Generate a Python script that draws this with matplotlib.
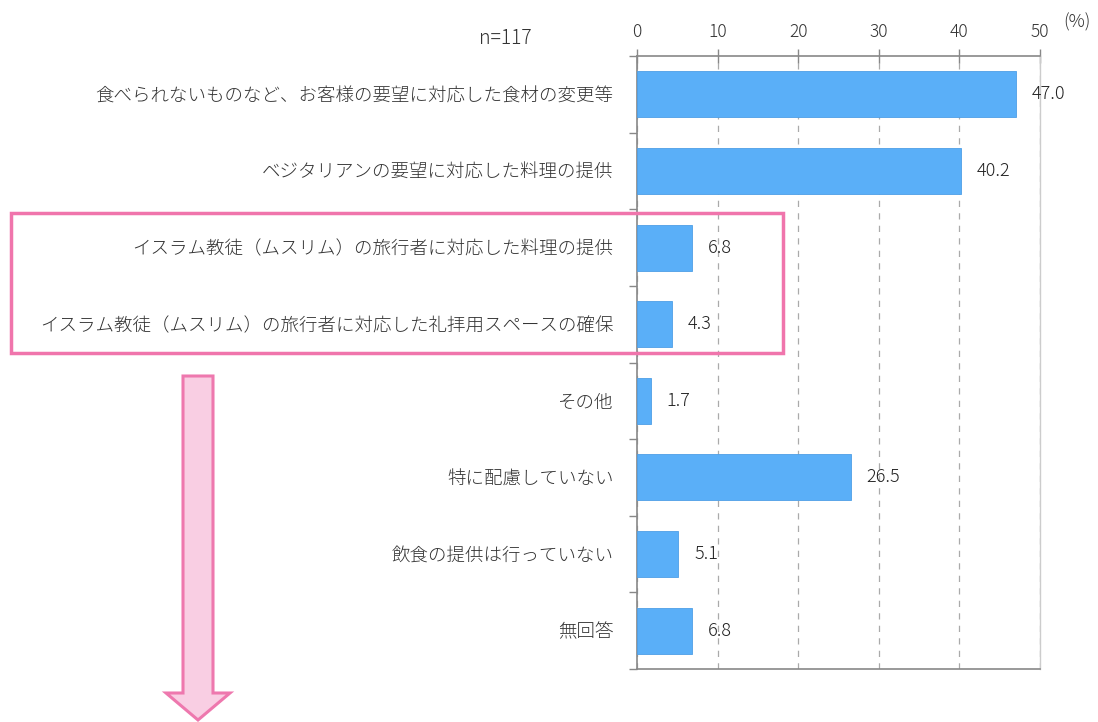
import matplotlib.pyplot as plt
from matplotlib.patches import Rectangle, Polygon

plt.rcParams['font.family'] = ['Noto Sans CJK JP', 'DejaVu Sans']
plt.rcParams['font.weight'] = 'light'

# data
categories = [
    '食べられないものなど、お客様の要望に対応した食材の変更等',
    'ベジタリアンの要望に対応した料理の提供',
    'イスラム教徒（ムスリム）の旅行者に対応した料理の提供',
    'イスラム教徒（ムスリム）の旅行者に対応した礼拝用スペースの確保',
    'その他',
    '特に配慮していない',
    '飲食の提供は行っていない',
    '無回答',
]
values = [47.0, 40.2, 6.8, 4.3, 1.7, 26.5, 5.1, 6.8]
xticks = [0, 10, 20, 30, 40, 50]

W, H = 1098, 722
fig = plt.figure(figsize=(W / 100, H / 100), dpi=100)
ax = fig.add_axes([637 / W, 1 - 669 / H, (1040 - 637) / W, (669 - 56) / H])

pos = list(range(len(categories)))
ax.barh(pos, values, height=0.6, color='#5AAFF8', edgecolor='#4E9FE6', linewidth=0.6, zorder=3)
for p, v in zip(pos, values):
    ax.text(v + 2.0, p, f'{v:.1f}', va='center', ha='left', fontsize=13, color='#222222', zorder=4)

ax.set_xlim(0, 50)
ax.set_ylim(len(categories) - 0.5, -0.5)
ax.xaxis.tick_top()
ax.set_xticks(xticks)
ax.tick_params(axis='x', direction='inout', length=10, width=1, color='#888888',
               labelsize=12.5, labelcolor='#333333', pad=6)
ax.set_yticks(pos)
ax.set_yticklabels(categories, fontsize=13.3, color='#333333')
ax.tick_params(axis='y', which='major', length=0, pad=17)
ax.set_yticks([p - 0.5 for p in pos] + [len(pos) - 0.5], minor=True)
ax.tick_params(axis='y', which='minor', direction='out', length=6, width=1, color='#888888')
ax.grid(axis='x', linestyle=(0, (5, 5)), color='#aaaaaa', linewidth=0.9, zorder=0)
for s in ['left', 'top', 'bottom']:
    ax.spines[s].set_color('#888888')
    ax.spines[s].set_linewidth(1.2)
ax.spines['right'].set_color('#cccccc')
ax.spines['right'].set_linewidth(1)

fig.text(505 / W, 1 - 38 / H, 'n=117', ha='center', va='center', fontsize=14, color='#333333')
fig.text(1077 / W, 1 - 22 / H, '(%)', ha='center', va='center', fontsize=13, color='#333333')

# highlight box
fig.patches.append(Rectangle((11 / W, 1 - 353 / H), (783 - 11) / W, (353 - 213) / H,
                             transform=fig.transFigure, fill=False,
                             edgecolor='#F075AC', linewidth=2.5))

# arrow
pts = [(183, 376), (213, 376), (213, 693), (230, 693), (198, 720), (166, 693), (183, 693)]
fig.patches.append(Polygon([(x / W, 1 - y / H) for x, y in pts], closed=True,
                           transform=fig.transFigure, facecolor='#F9CEE3',
                           edgecolor='#EE78AE', linewidth=2.2))

fig.savefig('out.png', dpi=100)
